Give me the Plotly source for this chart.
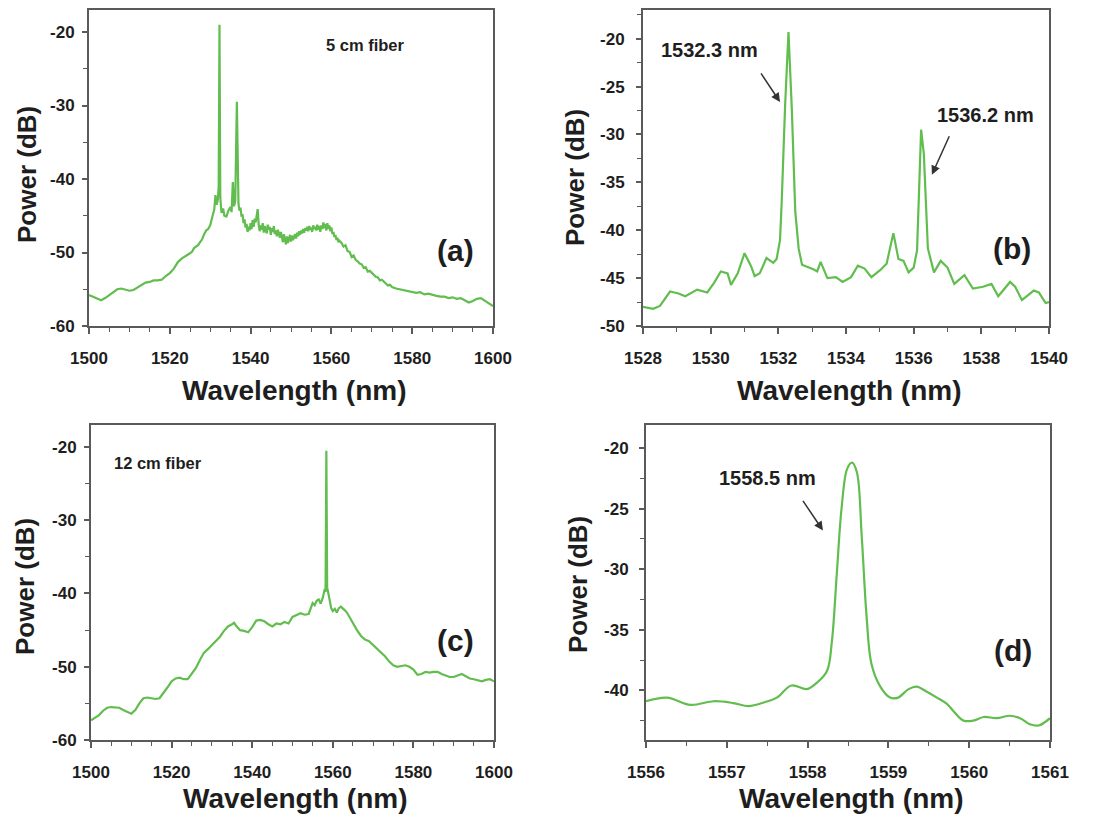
import plotly.graph_objects as go

# ---------------- spectra ----------------
# (a) 5 cm fiber, full span
wl_a = [1500, 1501, 1502, 1503, 1504, 1505, 1506, 1507, 1508, 1509, 1510, 1511, 1512,
        1513, 1514, 1515, 1516, 1517, 1518, 1519, 1520, 1521, 1522, 1523, 1524,
        1525, 1525.5, 1526, 1526.5, 1527, 1527.5, 1528, 1528.5, 1529, 1529.5, 1530,
        1530.5, 1531, 1531.3, 1531.6, 1531.9, 1532.1, 1532.3, 1532.5, 1532.8, 1533.2,
        1533.5, 1534, 1534.5, 1535, 1535.3, 1535.6, 1535.9, 1536.2, 1536.6, 1536.9,
        1537.0, 1537.25, 1537.5, 1537.75, 1538.0, 1538.25, 1538.5, 1538.75, 1539.0, 1539.25,
        1539.5, 1539.75, 1540.0, 1540.25, 1540.5, 1540.75, 1541.0, 1541.25, 1541.5, 1541.75,
        1542.0, 1542.25, 1542.5, 1542.75, 1543.0, 1543.25, 1543.5, 1543.75, 1544.0, 1544.25,
        1544.5, 1544.75, 1545.0, 1545.25, 1545.5, 1545.75, 1546.0, 1546.25, 1546.5, 1546.75,
        1547.0, 1547.25, 1547.5, 1547.75, 1548.0, 1548.25, 1548.5, 1548.75, 1549.0, 1549.25,
        1549.5, 1549.75, 1550.0, 1550.25, 1550.5, 1550.75, 1551.0, 1551.25, 1551.5, 1551.75,
        1552.0, 1552.25, 1552.5, 1552.75, 1553.0, 1553.25, 1553.5, 1553.75, 1554.0, 1554.25,
        1554.5, 1554.75, 1555.0, 1555.25, 1555.5, 1555.75, 1556.0, 1556.25, 1556.5, 1556.75,
        1557.0, 1557.25, 1557.5, 1557.75, 1558.0, 1558.25, 1558.5, 1558.75, 1559.0, 1559.25,
        1559.5, 1559.75, 1560.0, 1560.25, 1560.5, 1560.75, 1561.0, 1561.25, 1561.5, 1561.75,
        1562.0, 1562.5, 1563, 1563.5, 1564, 1564.5, 1565, 1565.5, 1566, 1566.5, 1567, 1567.5,
        1568, 1568.5, 1569, 1569.5, 1570, 1570.5, 1571, 1571.5, 1572, 1572.5, 1573, 1573.5,
        1574, 1574.5, 1575,
        1576, 1577, 1578, 1579, 1580, 1581, 1582, 1583, 1584, 1585, 1586, 1587, 1588,
        1589, 1590, 1591, 1592, 1593, 1594, 1595, 1596, 1597, 1598, 1599, 1600]
pw_a = [-55.8, -56.0, -56.3, -56.5, -56.2, -55.8, -55.4, -55.0, -54.9, -55.1, -55.2, -55.1, -54.8,
        -54.4, -54.1, -54.0, -53.8, -53.8, -53.7, -53.2, -52.8, -52.2, -51.3, -50.8, -50.5,
        -50.1, -49.9, -49.4, -49.2, -49.0, -48.6, -48.2, -47.5, -47.0, -46.8, -46.3,
        -45.2, -44.2, -42.2, -43.5, -42.8, -41.0, -19.0, -42.5, -44.6, -44.0,
        -45.0, -45.1, -44.3, -43.8, -44.5, -40.4, -43.7, -43.0, -29.5, -43.2,
        -43.4, -44.3, -43.9, -45.1, -44.8, -46.0, -45.5, -46.6, -46.1, -47.2,
        -46.5, -47.0, -46.0, -46.8, -45.6, -46.5, -45.4, -45.9, -44.6, -44.1,
        -46.2, -47.1, -46.3, -46.9, -46.0, -47.3, -46.4, -46.8, -47.4, -46.2,
        -46.9, -46.5, -47.6, -46.7, -47.2, -46.4, -47.5, -47.0, -47.8, -46.9,
        -47.4, -48.0, -47.2, -47.9, -48.6, -47.5, -48.4, -48.9, -47.8, -48.7,
        -48.2, -47.6, -48.5, -47.7, -48.3, -47.9, -47.5, -48.1, -47.3, -47.8,
        -47.1, -47.6, -47.0, -47.4, -46.8, -47.3, -46.7, -47.0, -46.5, -47.1,
        -46.4, -46.9, -46.6, -47.2, -46.3, -46.8, -46.5, -47.0, -46.2, -46.9,
        -46.4, -47.2, -46.3, -46.8, -45.9, -46.7, -46.1, -47.0, -46.0, -46.8,
        -46.3, -47.1, -46.6, -47.5, -47.2, -47.9, -47.6, -48.3, -48.0, -48.6,
        -48.4, -48.7, -49.2, -49.0, -49.8, -49.9, -50.6, -50.4, -51.0, -51.2, -51.5, -51.6,
        -52.1, -52.0, -52.6, -52.5, -52.8, -53.1, -53.3, -53.4, -53.8, -53.7, -54.0, -54.3,
        -54.5, -54.4, -54.7,
        -54.9, -55.0, -55.1, -55.2, -55.3, -55.5, -55.4, -55.7, -55.6, -55.8, -55.9, -56.0, -56.0,
        -56.2, -56.1, -56.3, -56.2, -56.5, -56.8, -56.6, -56.3, -56.2, -56.6, -57.0, -57.3]

# (b) 5 cm fiber, zoom on the two lasing lines
wl_b = [1528.0, 1528.3, 1528.5, 1528.8, 1529.05, 1529.25, 1529.6, 1529.9, 1530.1, 1530.3,
        1530.5, 1530.6, 1530.8, 1531.0, 1531.2, 1531.3, 1531.45, 1531.65, 1531.85, 1531.95,
        1532.05, 1532.1, 1532.2, 1532.3, 1532.4, 1532.5, 1532.6, 1532.7, 1533.05, 1533.15,
        1533.25, 1533.45, 1533.7, 1533.9, 1534.15, 1534.35, 1534.55, 1534.75, 1535.0, 1535.2,
        1535.4, 1535.55, 1535.7, 1535.85, 1536.0, 1536.1, 1536.22, 1536.3, 1536.42, 1536.6,
        1536.8, 1537.0, 1537.2, 1537.5, 1537.75, 1538.05, 1538.3, 1538.5, 1538.85, 1539.0,
        1539.2, 1539.55, 1539.7, 1539.9, 1540.0]
pw_b = [-48.0, -48.2, -47.9, -46.4, -46.6, -46.9, -46.2, -46.5, -45.5, -44.3,
        -44.5, -45.7, -44.5, -42.4, -43.8, -44.8, -44.5, -42.9, -43.4, -43.0,
        -41.0, -37.0, -27.0, -19.3, -27.5, -38.0, -41.9, -43.6, -44.1, -44.3,
        -43.3, -45.0, -44.9, -45.4, -44.9, -43.7, -44.0, -44.9, -44.2, -43.5,
        -40.3, -43.0, -43.2, -44.4, -43.9, -42.1, -29.5, -32.0, -41.9, -44.4,
        -43.2, -43.9, -45.6, -44.7, -46.1, -45.9, -45.6, -46.9, -45.4, -45.9,
        -47.3, -46.3, -46.5, -47.6, -47.5]

# (c) 12 cm fiber, full span
wl_c = [1500, 1501, 1502, 1503, 1504, 1505, 1506, 1507, 1508, 1509, 1510, 1511, 1512,
        1513, 1514, 1515, 1516, 1517, 1518, 1519, 1520, 1521, 1522, 1523, 1524, 1525,
        1526, 1527, 1528, 1529, 1530, 1531, 1532, 1533, 1534, 1535, 1535.5, 1536, 1537,
        1538, 1539, 1540, 1541, 1542, 1543, 1544, 1545, 1546, 1547, 1548, 1549, 1550,
        1551, 1552, 1553, 1554, 1555, 1555.5, 1556, 1556.5, 1557, 1557.5, 1558, 1558.2,
        1558.4, 1558.6, 1558.8, 1559.2, 1559.6, 1560, 1560.5, 1561, 1561.5, 1562, 1562.5,
        1563, 1563.5, 1564, 1565, 1566, 1567, 1568, 1569, 1570, 1571, 1572, 1573, 1574,
        1575, 1576, 1577, 1578, 1579, 1580, 1581, 1582, 1583, 1584, 1585, 1586, 1587,
        1588, 1589, 1590, 1591, 1592, 1593, 1594, 1595, 1596, 1597, 1598, 1599, 1600]
pw_c = [-57.3, -57.0, -56.6, -56.0, -55.6, -55.5, -55.5, -55.6, -55.9, -56.2, -56.4, -55.9, -55.0,
        -54.3, -54.2, -54.3, -54.4, -54.3, -53.6, -52.8, -52.0, -51.6, -51.5, -51.7, -51.7, -51.0,
        -50.2, -49.1, -48.1, -47.6, -47.0, -46.5, -45.9, -45.1, -44.5, -44.2, -44.0, -44.4, -45.0,
        -45.1, -45.3, -44.6, -43.7, -43.6, -43.8, -44.2, -44.5, -44.1, -44.2, -43.9, -44.1, -43.2,
        -43.0, -42.7, -42.9, -42.8, -41.3, -41.6, -41.0, -40.8, -41.4, -40.6, -39.4, -39.8,
        -20.5, -39.2, -39.7, -41.2, -42.0, -42.4, -42.1, -42.6, -42.0, -41.8, -42.0,
        -42.3, -42.6, -43.1, -44.0, -45.0, -45.8, -46.3, -46.5, -47.0, -47.6, -48.1, -48.6, -49.3,
        -49.8, -50.0, -49.9, -49.8, -50.0, -50.4, -51.1, -51.0, -50.7, -50.8, -50.7, -50.7, -51.0,
        -51.2, -51.4, -51.4, -51.2, -51.0, -51.3, -51.6, -51.7, -51.9, -52.0, -51.8, -51.7, -52.0]

# (d) 12 cm fiber, zoom on the lasing line
wl_d = [1556.0, 1556.26, 1556.55, 1556.84, 1557.08, 1557.27, 1557.46, 1557.62, 1557.8, 1557.99,
        1558.11, 1558.24, 1558.3, 1558.36, 1558.42, 1558.49, 1558.55, 1558.61, 1558.67, 1558.73,
        1558.79, 1558.9, 1559.02, 1559.12, 1559.25, 1559.35, 1559.47, 1559.6, 1559.72, 1559.83,
        1559.93, 1560.05, 1560.18, 1560.34, 1560.5, 1560.63, 1560.75, 1560.86, 1561.0]
pw_d = [-40.9, -40.6, -41.2, -40.9, -41.05, -41.3, -41.0, -40.6, -39.6, -39.9,
        -39.4, -38.4, -36.0, -30.5, -25.0, -21.7, -21.2, -22.0, -27.3, -33.9,
        -37.8, -39.7, -40.6, -40.6, -39.9, -39.7, -40.1, -40.6, -41.1, -41.9,
        -42.5, -42.5, -42.2, -42.3, -42.1, -42.3, -42.8, -42.9, -42.3]

# tick values and their printed labels (plain hyphen minus)
yt_wide = [-60, -50, -40, -30, -20]
yt_b = [-50, -45, -40, -35, -30, -25, -20]
yt_d = [-40, -35, -30, -25, -20]

GREEN = "#62bd4f"
FRAME = "#5a5a5a"
TXT = "#1e1e1e"
FONT = "Liberation Sans, Arial, sans-serif"
W, H = 1099, 816

fig = go.Figure()
fig.add_trace(go.Scatter(x=wl_a, y=pw_a, mode="lines", line=dict(color=GREEN, width=2.2), xaxis="x", yaxis="y"))
fig.add_trace(go.Scatter(x=wl_b, y=pw_b, mode="lines", line=dict(color=GREEN, width=2.2), xaxis="x2", yaxis="y2"))
fig.add_trace(go.Scatter(x=wl_c, y=pw_c, mode="lines", line=dict(color=GREEN, width=2.2), xaxis="x3", yaxis="y3"))
fig.add_trace(go.Scatter(x=wl_d, y=pw_d, mode="lines", line=dict(color=GREEN, width=2.2, shape="spline"),
                         xaxis="x4", yaxis="y4"))

# panel boxes in pixels: (left, right, top, bottom)
boxes = {
    "a": (89, 493, 10, 326),
    "b": (643, 1049, 10, 326),
    "c": (91, 494, 425, 740),
    "d": (646, 1050, 425, 740),
}


def xdom(k):
    l, r, _, _ = boxes[k]
    return [l / W, r / W]


def ydom(k):
    _, _, t, b = boxes[k]
    return [1 - b / H, 1 - t / H]


tickfont = dict(family=FONT, size=17, color=TXT, weight="bold")


def xax(k, rng, dt, mdt, anchor):
    return dict(domain=xdom(k), range=rng, dtick=dt, tick0=rng[0], anchor=anchor, automargin=False,
                showline=True, mirror=True, linecolor=FRAME, linewidth=2,
                ticks="outside", ticklen=6, tickwidth=1.5, tickcolor=FRAME,
                minor=dict(dtick=mdt, ticks="outside", ticklen=4, tickwidth=1.2, tickcolor=FRAME),
                showgrid=False, zeroline=False, tickfont=tickfont, ticklabelstandoff=10)


def yax(k, rng, tickvals, mdt, anchor, standoff):
    return dict(domain=ydom(k), range=rng, tickmode="array", tickvals=tickvals,
                ticktext=[f"{v:d}" for v in tickvals], anchor=anchor, automargin=False,
                showline=True, mirror=True, linecolor=FRAME, linewidth=2,
                ticks="outside", ticklen=5, tickwidth=1.5, tickcolor=FRAME,
                minor=dict(dtick=mdt, tick0=0, ticks="outside", ticklen=4, tickwidth=1.2, tickcolor=FRAME),
                showgrid=False, zeroline=False, tickfont=tickfont, ticklabelstandoff=standoff)


fig.update_layout(
    template="none",
    width=W, height=H, margin=dict(l=0, r=0, t=0, b=0, pad=0), autosize=False,
    paper_bgcolor="white", plot_bgcolor="white", showlegend=False,
    xaxis=xax("a", [1500, 1600], 20, 5, "y"),
    yaxis=yax("a", [-60, -17], yt_wide, 5, "x", 4),
    xaxis2=xax("b", [1528, 1540], 2, 1, "y2"),
    yaxis2=yax("b", [-50, -17], yt_b, 2.5, "x2", 8),
    xaxis3=xax("c", [1500, 1600], 20, 5, "y3"),
    yaxis3=yax("c", [-60, -17], yt_wide, 5, "x3", 4),
    xaxis4=xax("d", [1556, 1561], 1, 0.5, "y4"),
    yaxis4=yax("d", [-44.1, -18.1], yt_d, 2.5, "x4", 7),
)


def px(xp, yp):
    return xp / W, 1 - yp / H


def label(text, xp, yp, size, angle=0):
    cx, cy = px(xp, yp)
    return dict(x=cx, y=cy, xref="paper", yref="paper", xanchor="center", yanchor="middle",
                text=f"<b>{text}</b>", textangle=angle, showarrow=False,
                font=dict(family=FONT, size=size, color=TXT))


ann = []
# axis titles
for k, (l, r, t, b) in boxes.items():
    off = 64 if t < 100 else 58
    ann.append(label("Wavelength (nm)", (l + r) / 2 + 3, b + off, 28))
for xp, yp in [(27, 175), (575, 177), (25, 587), (578, 585)]:
    ann.append(label("Power (dB)", xp, yp, 26, -90))
# panel letters
for t, xp, yp in [("(a)", 455, 250), ("(b)", 1012, 248), ("(c)", 455, 640), ("(d)", 1013, 650)]:
    ann.append(label(t, xp, yp, 30))
# fiber length notes
for t, xp, yp in [("5 cm fiber", 365, 45), ("12 cm fiber", 158, 463)]:
    ann.append(label(t, xp, yp, 16.5))
# peak wavelength labels
for t, xp, yp in [("1532.3 nm", 709, 50), ("1536.2 nm", 985, 115), ("1558.5 nm", 767, 478)]:
    ann.append(label(t, xp, yp, 20))
# arrows pointing at the lasing lines
for xr, yr, xv, yv, axp, ayp in [("x2", "y2", 1532.05, -26.6, -20, -30),
                                 ("x2", "y2", 1536.54, -34.2, 18, -40),
                                 ("x4", "y4", 1558.19, -26.8, -21, -31)]:
    ann.append(dict(x=xv, y=yv, xref=xr, yref=yr, ax=axp, ay=ayp, text="", showarrow=True,
                    arrowhead=2, arrowsize=1.2, arrowwidth=1.5, arrowcolor="#333333"))

fig.update_layout(annotations=ann)
fig.write_html("out.html")
